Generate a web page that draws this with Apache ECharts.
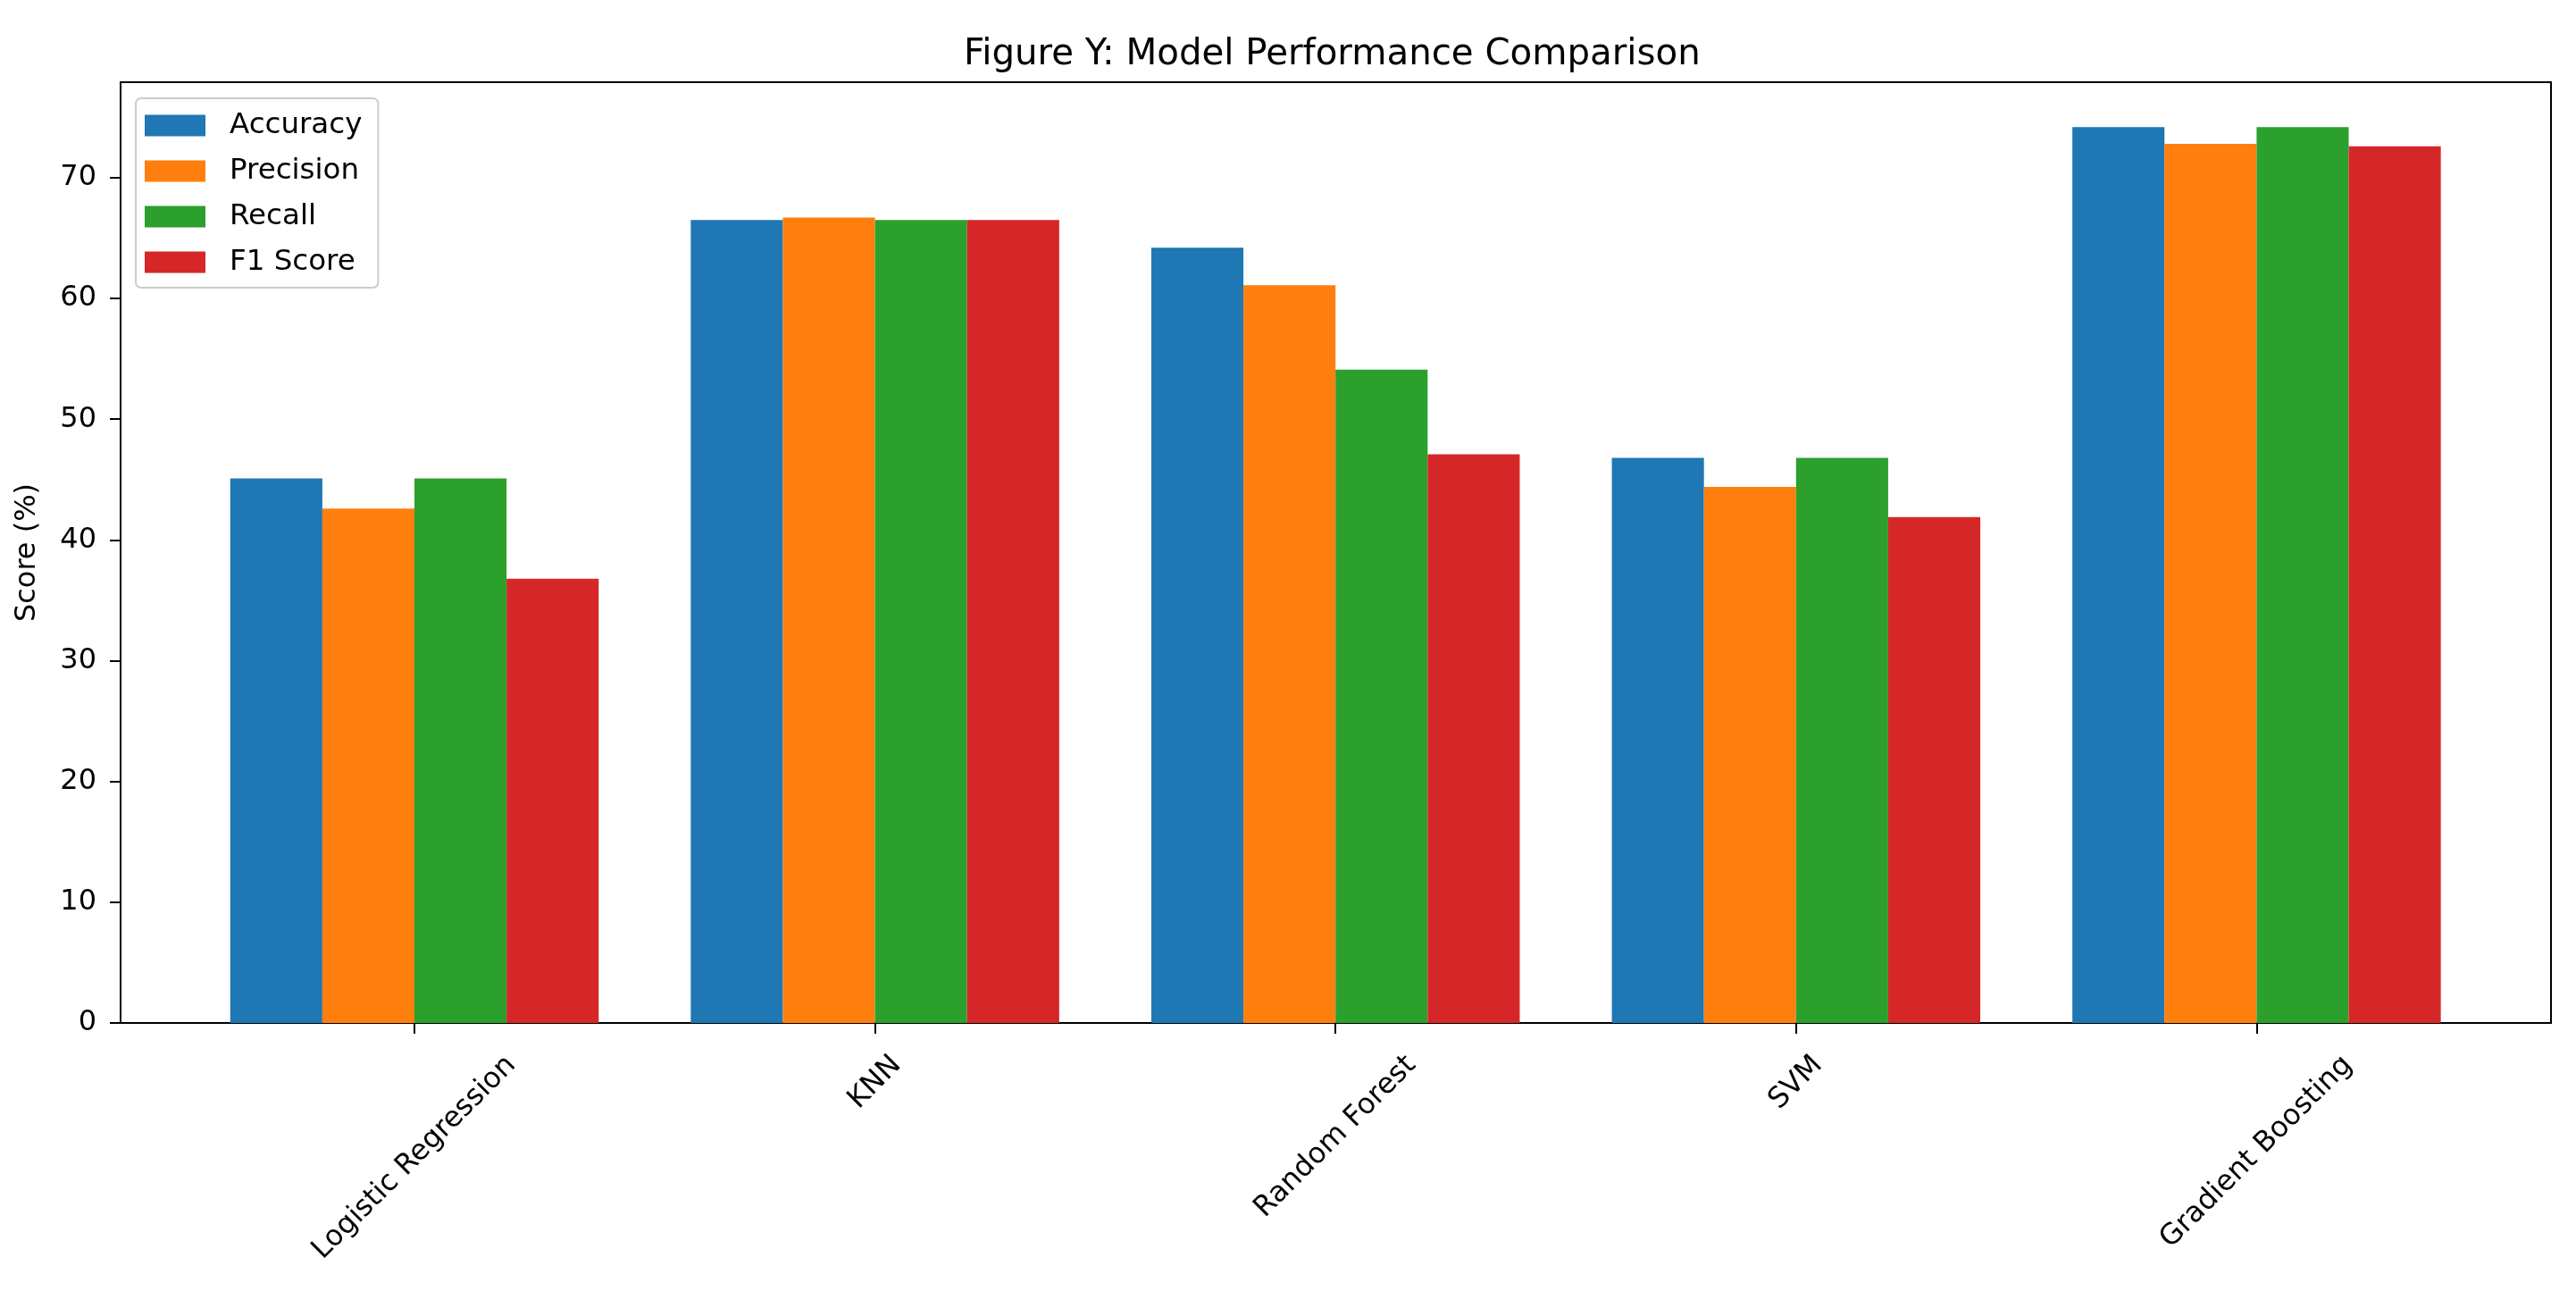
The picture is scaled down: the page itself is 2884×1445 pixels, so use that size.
<!DOCTYPE html>
<html>
<head>
<meta charset="utf-8">
<script src="https://cdn.jsdelivr.net/npm/echarts@6/dist/echarts.min.js"></script>
<style>
html,body{margin:0;padding:0;background:#fff;}
#chart{width:2884px;height:1445px;}
</style>
</head>
<body>
<div id="chart"></div>
<script>
// ---- data ----
const categories = ['Logistic Regression', 'KNN', 'Random Forest', 'SVM', 'Gradient Boosting'];
const seriesNames = ['Accuracy', 'Precision', 'Recall', 'F1 Score'];
const accuracy  = [45.1, 66.5, 64.2, 46.8, 74.2];
const precision = [42.6, 66.7, 61.1, 44.4, 72.8];
const recall    = [45.1, 66.5, 54.1, 46.8, 74.2];
const f1Score   = [36.8, 66.5, 47.1, 41.9, 72.6];
const yTicks = [0, 10, 20, 30, 40, 50, 60, 70];
const titleText = 'Figure Y: Model Performance Comparison';
const yLabel = 'Score (%)';

// ---- style ----
const colors = ['#1f77b4', '#ff7f0e', '#2ca02c', '#d62728'];
const FONT = 'DejaVu Sans';
const allValues = [].concat(accuracy, precision, recall, f1Score);
const yMax = Math.max.apply(null, allValues) * 1.05;

// matplotlib-like rotated labels (rotation=45, ha=center, va=top):
// label centre sits below its tick by half the rotated bbox height.
const labelFont = 32;
const ctx = document.createElement('canvas').getContext('2d');
ctx.font = labelFont + 'px "' + FONT + '"';
const C45 = Math.SQRT1_2;
const topGap = 31; // axis line -> top of rotated label bbox
const labelAxes = categories.map(function (name, i) {
  const L = ctx.measureText(name).width;
  const off = topGap + (L + labelFont) * C45 / 2;
  return {
    type: 'category', gridIndex: 1, data: categories, boundaryGap: true,
    position: 'bottom', offset: off,
    axisLine: { show: false }, axisTick: { show: false }, splitLine: { show: false },
    axisLabel: {
      interval: 0, rotate: 45, margin: 0, align: 'center', verticalAlign: 'middle',
      fontFamily: FONT, fontSize: labelFont, color: '#000', hideOverlap: false,
      formatter: function (v, idx) { return idx === i ? v : ''; }
    }
  };
});

const grids = [
  { left: 135, right: 28, top: 92, bottom: 300, show: true, borderColor: '#000', borderWidth: 2, backgroundColor: 'transparent', outerBoundsMode: 'none', containLabel: false },
  { left: 206.2, right: 99.8, top: 92, bottom: 300, show: false, outerBoundsMode: 'none', containLabel: false }
];

const seriesData = [accuracy, precision, recall, f1Score];
const series = seriesNames.map(function (n, i) {
  return {
    name: n, type: 'bar', xAxisIndex: 1, yAxisIndex: 1,
    data: seriesData[i], barGap: '0%', barCategoryGap: '20%',
    itemStyle: { color: colors[i] }
  };
});

const chart = echarts.init(document.getElementById('chart'), null, { renderer: 'canvas' });
chart.setOption({
  animation: false,
  backgroundColor: '#fff',
  color: colors,
  title: {
    text: titleText, left: 1079, top: 42, padding: 0,
    textStyle: { fontFamily: FONT, fontSize: 40.3, fontWeight: 'normal', color: '#000' }
  },
  legend: {
    orient: 'vertical', left: 152, top: 110, icon: 'rect',
    itemWidth: 68, itemHeight: 24, itemGap: 18,
    padding: [14, 18, 12, 10],
    backgroundColor: '#fff', borderColor: '#cccccc', borderWidth: 2, borderRadius: 6,
    textStyle: { fontFamily: FONT, fontSize: 32.5, color: '#000', padding: [0, 0, 0, 22] },
    data: seriesNames
  },
  grid: grids,
  xAxis: [
    { type: 'value', gridIndex: 0, min: 0, max: 1, show: false },
    {
      type: 'category', gridIndex: 1, data: categories, boundaryGap: true, position: 'bottom',
      axisLine: { show: false },
      axisTick: { show: true, alignWithLabel: true, length: 12, lineStyle: { color: '#000', width: 2 } },
      axisLabel: { show: false },
      splitLine: { show: false }
    }
  ].concat(labelAxes),
  yAxis: [
    {
      type: 'value', gridIndex: 0, min: 0, max: yMax, interval: 10,
      name: yLabel, nameLocation: 'middle', nameGap: 88, nameRotate: 90,
      nameTextStyle: { fontFamily: FONT, fontSize: 32, color: '#000' },
      axisLine: { show: false },
      axisTick: { show: true, length: 12, lineStyle: { color: '#000', width: 2 }, customValues: yTicks },
      axisLabel: { fontFamily: FONT, fontSize: 32, color: '#000', margin: 27, customValues: yTicks },
      splitLine: { show: false }
    },
    { type: 'value', gridIndex: 1, min: 0, max: yMax, show: false, splitLine: { show: false } }
  ],
  series: series
});
</script>
</body>
</html>
